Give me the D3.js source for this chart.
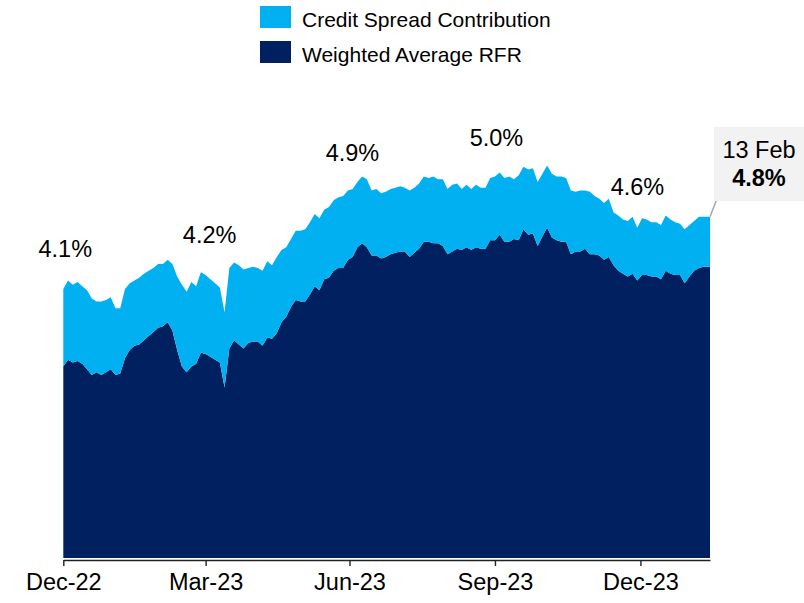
<!DOCTYPE html>
<html>
<head>
<meta charset="utf-8">
<script src="https://cdn.jsdelivr.net/npm/d3@7"></script>
<style>
  html, body { margin: 0; padding: 0; background: #fff; }
  svg { display: block; font-family: "Liberation Sans", Arial, sans-serif; }
</style>
</head>
<body>
<div id="chart"></div>
<script>
// observations, every 3 days from end of Dec-22 to 13 Feb 2024
const dates = ("2022-12-31 2023-01-03 2023-01-06 2023-01-09 2023-01-12 2023-01-15 2023-01-18 2023-01-21 2023-01-24 2023-01-27 " +
  "2023-01-30 2023-02-02 2023-02-05 2023-02-08 2023-02-11 2023-02-14 2023-02-17 2023-02-20 2023-02-23 2023-02-26 " +
  "2023-03-01 2023-03-04 2023-03-07 2023-03-10 2023-03-13 2023-03-16 2023-03-19 2023-03-22 2023-03-25 2023-03-28 " +
  "2023-03-31 2023-04-03 2023-04-06 2023-04-09 2023-04-12 2023-04-15 2023-04-18 2023-04-21 2023-04-24 2023-04-27 " +
  "2023-04-30 2023-05-03 2023-05-06 2023-05-09 2023-05-12 2023-05-15 2023-05-18 2023-05-21 2023-05-24 2023-05-27 " +
  "2023-05-30 2023-06-02 2023-06-05 2023-06-08 2023-06-11 2023-06-14 2023-06-17 2023-06-20 2023-06-23 2023-06-26 " +
  "2023-06-29 2023-07-02 2023-07-05 2023-07-08 2023-07-11 2023-07-14 2023-07-17 2023-07-20 2023-07-23 2023-07-26 " +
  "2023-07-29 2023-08-01 2023-08-04 2023-08-07 2023-08-10 2023-08-13 2023-08-16 2023-08-19 2023-08-22 2023-08-25 " +
  "2023-08-28 2023-08-31 2023-09-03 2023-09-06 2023-09-09 2023-09-12 2023-09-15 2023-09-18 2023-09-21 2023-09-24 " +
  "2023-09-27 2023-09-30 2023-10-03 2023-10-06 2023-10-09 2023-10-12 2023-10-15 2023-10-18 2023-10-21 2023-10-24 " +
  "2023-10-27 2023-10-30 2023-11-02 2023-11-05 2023-11-08 2023-11-11 2023-11-14 2023-11-17 2023-11-20 2023-11-23 " +
  "2023-11-26 2023-11-29 2023-12-02 2023-12-05 2023-12-08 2023-12-11 2023-12-14 2023-12-17 2023-12-20 2023-12-23 " +
  "2023-12-26 2023-12-29 2024-01-01 2024-01-04 2024-01-07 2024-01-10 2024-01-13 2024-01-16 2024-01-19 2024-01-22 " +
  "2024-01-25 2024-01-28 2024-01-31 2024-02-03 2024-02-06 2024-02-09 2024-02-13").split(" ")

// Weighted Average RFR (%)
const rfr = [
  3.53, 3.58, 3.56, 3.57, 3.55, 3.51, 3.47, 3.49, 3.47, 3.49,
  3.51, 3.47, 3.48, 3.59, 3.65, 3.68, 3.69, 3.72, 3.75, 3.78,
  3.81, 3.82, 3.85, 3.79, 3.65, 3.53, 3.49, 3.53, 3.55, 3.63,
  3.62, 3.60, 3.58, 3.56, 3.38, 3.66, 3.72, 3.69, 3.66, 3.70,
  3.71, 3.71, 3.68, 3.74, 3.73, 3.77, 3.85, 3.89, 3.96, 4.01,
  4.00, 4.00, 4.05, 4.11, 4.08, 4.16, 4.17, 4.22, 4.24, 4.24,
  4.30, 4.32, 4.39, 4.42, 4.39, 4.33, 4.33, 4.31, 4.32, 4.34,
  4.35, 4.36, 4.36, 4.32, 4.35, 4.38, 4.43, 4.43, 4.42, 4.42,
  4.40, 4.34, 4.36, 4.38, 4.37, 4.39, 4.37, 4.39, 4.38, 4.38,
  4.44, 4.44, 4.48, 4.43, 4.43, 4.45, 4.44, 4.52, 4.48, 4.49,
  4.40, 4.47, 4.53, 4.46, 4.44, 4.43, 4.43, 4.34, 4.36, 4.36,
  4.38, 4.34, 4.34, 4.33, 4.30, 4.32, 4.26, 4.22, 4.20, 4.18,
  4.20, 4.15, 4.19, 4.19, 4.18, 4.18, 4.16, 4.22, 4.20, 4.19,
  4.19, 4.13, 4.18, 4.22, 4.24, 4.25, 4.25
]

// Credit Spread Contribution (%)
const spread = [
  0.56, 0.57, 0.56, 0.57, 0.56, 0.57, 0.55, 0.51, 0.53, 0.52,
  0.52, 0.48, 0.47, 0.50, 0.48, 0.47, 0.48, 0.48, 0.47, 0.46,
  0.46, 0.45, 0.45, 0.48, 0.53, 0.59, 0.58, 0.61, 0.56, 0.58,
  0.57, 0.56, 0.55, 0.54, 0.54, 0.58, 0.56, 0.57, 0.57, 0.54,
  0.54, 0.53, 0.54, 0.55, 0.53, 0.55, 0.52, 0.50, 0.49, 0.50,
  0.51, 0.52, 0.52, 0.52, 0.52, 0.50, 0.51, 0.51, 0.51, 0.52,
  0.50, 0.49, 0.47, 0.48, 0.49, 0.47, 0.48, 0.47, 0.47, 0.47,
  0.47, 0.47, 0.46, 0.48, 0.47, 0.47, 0.47, 0.46, 0.48, 0.46,
  0.48, 0.47, 0.48, 0.47, 0.44, 0.45, 0.44, 0.45, 0.44, 0.44,
  0.45, 0.46, 0.45, 0.46, 0.47, 0.43, 0.47, 0.45, 0.47, 0.47,
  0.46, 0.45, 0.45, 0.46, 0.46, 0.47, 0.46, 0.46, 0.43, 0.44,
  0.42, 0.45, 0.42, 0.41, 0.41, 0.42, 0.38, 0.40, 0.39, 0.40,
  0.41, 0.38, 0.41, 0.40, 0.39, 0.39, 0.39, 0.40, 0.39, 0.38,
  0.37, 0.39, 0.37, 0.36, 0.37, 0.36, 0.36
]

const tickDates = ["2022-12-31", "2023-03-31", "2023-06-30", "2023-09-30", "2023-12-31"]
const tickLabels = ["Dec-22", "Mar-23", "Jun-23", "Sep-23", "Dec-23"]

const labelDates = ["2022-12-31", "2023-03-31", "2023-06-30", "2023-09-30", "2023-12-31"]
const labelTexts = ["4.1%", "4.2%", "4.9%", "5.0%", "4.6%"]

const calloutDate = "2024-02-13"
const calloutTexts = ["13 Feb", "4.8%"]

const legendNames = ["Credit Spread Contribution", "Weighted Average RFR"]
const colors = { spread: "#00B0F0", rfr: "#002060" }

const W = 804, H = 603
const parse = d3.timeParse("%Y-%m-%d")

const data = dates.map((d, i) => ({ date: parse(d), rfr: rfr[i], spread: spread[i] }))

const svg = d3.select("#chart").append("svg")
    .attr("width", W)
    .attr("height", H)

// scales
const x = d3.scaleTime()
    .domain([parse(dates[0]), parse(dates[dates.length - 1])])
    .range([63.3, 710])

const y = d3.scaleLinear()
    .domain([2.15, 5.25])
    .range([558, 128])
    .clamp(true)

// stacked areas
const series = d3.stack().keys(["rfr", "spread"])(data)

const area = d3.area()
    .x(d => x(d.data.date))
    .y0(d => y(d[0]))
    .y1(d => y(d[1]))

svg.append("g")
    .selectAll("path")
    .data(series)
    .join("path")
    .attr("d", area)
    .attr("fill", d => colors[d.key])

// x axis
const xAxis = d3.axisBottom(x)
    .tickValues(tickDates.map(parse))
    .tickFormat((d, i) => tickLabels[i])
    .tickSize(6)
    .tickSizeOuter(0)

const gx = svg.append("g")
    .attr("transform", "translate(0,560)")
    .call(xAxis)

gx.select(".domain").attr("stroke", "#222").attr("stroke-width", 1.4)
gx.selectAll(".tick line").attr("stroke", "#222").attr("stroke-width", 1.4)
gx.selectAll(".tick text")
    .attr("y", 13)
    .attr("dy", "0.71em")
    .attr("fill", "#000")
    .style("font-size", "23.5px")
    .style("font-family", "'Liberation Sans', Arial, sans-serif")

// quarter labels
const labelShift = [2, 4, 3, 1.5, -3]
const labelBase = [256.5, 242.5, 160.5, 146, 195]

svg.append("g")
    .selectAll("text")
    .data(labelTexts)
    .join("text")
    .attr("x", (d, i) => x(parse(labelDates[i])) + labelShift[i])
    .attr("y", (d, i) => labelBase[i])
    .attr("text-anchor", "middle")
    .attr("fill", "#000")
    .style("font-size", "23.5px")
    .text(d => d)

// callout for the last observation
const last = data[data.length - 1]
const lx = x(parse(calloutDate))
const ly = y(last.rfr + last.spread)

svg.append("line")
    .attr("x1", lx).attr("y1", ly)
    .attr("x2", lx + 6.5).attr("y2", 200)
    .attr("stroke", "#a6a6a6")
    .attr("stroke-width", 1.5)

svg.append("rect")
    .attr("x", 714).attr("y", 127)
    .attr("width", 90).attr("height", 74)
    .attr("fill", "#f2f2f2")

svg.append("text")
    .attr("x", 759).attr("y", 158)
    .attr("text-anchor", "middle")
    .style("font-size", "23.5px")
    .text(calloutTexts[0])

svg.append("text")
    .attr("x", 759).attr("y", 185.5)
    .attr("text-anchor", "middle")
    .style("font-size", "23.5px")
    .style("font-weight", "bold")
    .text(calloutTexts[1])

// legend
const legend = svg.append("g")
    .selectAll("g")
    .data(legendNames)
    .join("g")
    .attr("transform", (d, i) => "translate(260," + (6 + i * 35) + ")")

legend.append("rect")
    .attr("width", 31)
    .attr("height", 22)
    .attr("fill", (d, i) => i === 0 ? colors.spread : colors.rfr)

legend.append("text")
    .attr("x", 42)
    .attr("y", 20.5)
    .attr("fill", "#000")
    .style("font-size", "21px")
    .text(d => d)
</script>
</body>
</html>
